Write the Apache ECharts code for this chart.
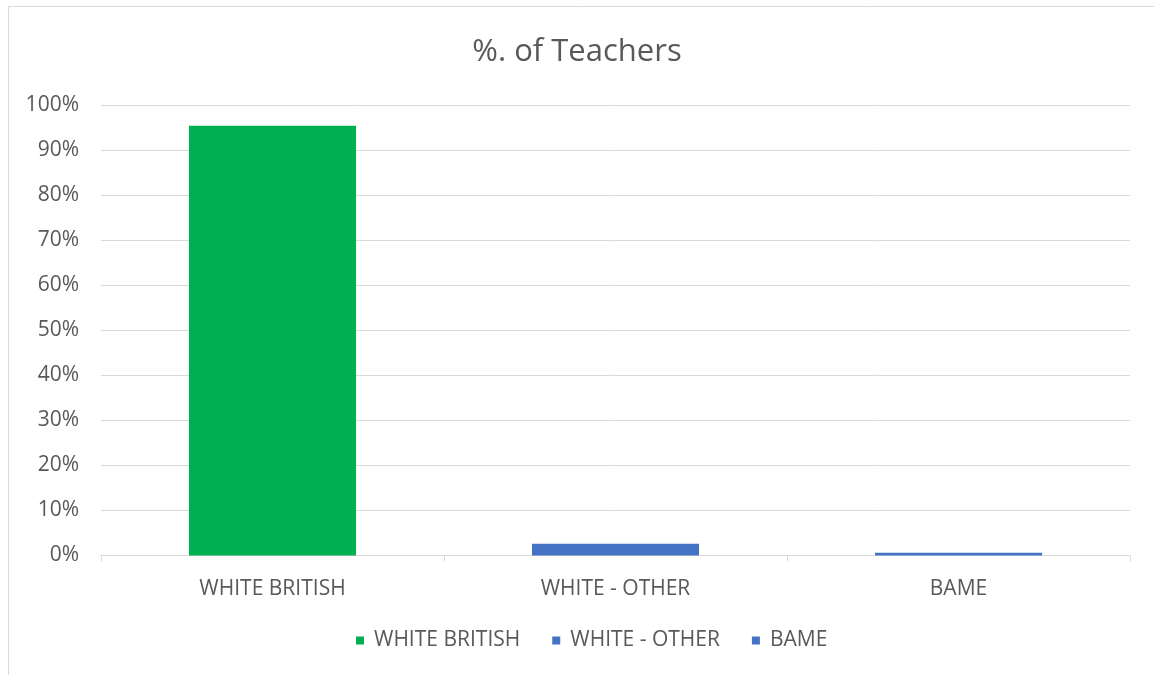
<!DOCTYPE html>
<html>
<head>
<meta charset="utf-8">
<script src="https://cdn.jsdelivr.net/npm/echarts@6/dist/echarts.min.js"></script>
<style>
  html, body { margin: 0; padding: 0; background: #ffffff; }
  #chart { width: 1154px; height: 675px; }
</style>
</head>
<body>
<div id="chart"></div>
<script>
// Share of teachers by ethnic group (percent)
const categories = ['WHITE BRITISH', 'WHITE - OTHER', 'BAME'];
const shares = [95.4, 2.6, 0.6];
const colours = ['#00b050', '#4472c4', '#4472c4'];
const yTicks = [0, 10, 20, 30, 40, 50, 60, 70, 80, 90, 100];

const FONT = '"Open Sans", "Noto Sans", sans-serif';
const TEXT = '#595959';
const GRID = '#d9d9d9';

// One series per group so each gets its own legend entry; stacking keeps
// every bar centred on its own category.
const series = categories.map((name, i) => ({
  name: name,
  type: 'bar',
  stack: 'groups',
  barWidth: '48.7%',
  itemStyle: { color: colours[i] },
  data: categories.map((c, j) => (j === i ? shares[i] : '-'))
}));

const chart = echarts.init(document.getElementById('chart'), null, { renderer: 'canvas' });
chart.setOption({
  animation: false,
  backgroundColor: '#ffffff',
  title: {
    text: '%. of Teachers',
    left: 'center',
    top: 32,
    textStyle: { fontFamily: FONT, fontSize: 31, fontWeight: 'normal', color: TEXT }
  },
  legend: {
    top: 630,
    left: 356,
    padding: 0,
    itemWidth: 8,
    itemHeight: 8,
    itemGap: 32,
    icon: 'rect',
    textStyle: { fontFamily: FONT, fontSize: 21, color: TEXT, padding: [0, 0, 0, 5] },
    data: categories
  },
  grid: { left: 101, right: 24, top: 105, bottom: 119.5, containLabel: false },
  xAxis: {
    type: 'category',
    data: categories,
    axisLine: { lineStyle: { color: GRID, width: 1 } },
    axisTick: { show: true, length: 6, lineStyle: { color: GRID } },
    axisLabel: { fontFamily: FONT, fontSize: 21, color: TEXT, margin: 23 }
  },
  yAxis: {
    type: 'value',
    min: yTicks[0],
    max: yTicks[yTicks.length - 1],
    interval: 10,
    axisLine: { show: false },
    axisTick: { show: false },
    splitLine: { lineStyle: { color: GRID, width: 1 } },
    axisLabel: { fontFamily: FONT, fontSize: 21, color: TEXT, margin: 22, formatter: '{value}%' }
  },
  graphic: [{
    type: 'rect',
    silent: true,
    z: -1,
    shape: { x: 8.5, y: 6.5, width: 1200, height: 700 },
    style: { fill: 'none', stroke: '#d9d9d9', lineWidth: 1 }
  }],
  series: series
});
</script>
</body>
</html>
